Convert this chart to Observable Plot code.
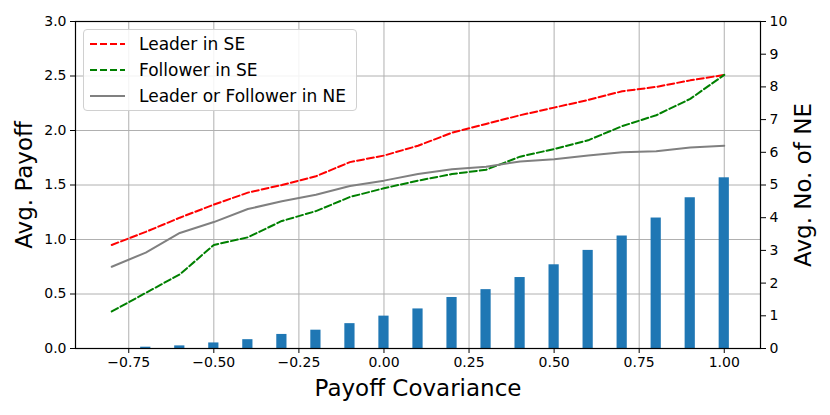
<!DOCTYPE html>
<html>
<head>
<meta charset="utf-8">
<script src="https://cdn.jsdelivr.net/npm/d3@7"></script>
<script src="https://cdn.jsdelivr.net/npm/@observablehq/plot@0.6"></script>
<style>
  body { margin: 0; background: white; font-family: "DejaVu Sans", sans-serif; }
  #wrap { position: relative; width: 830px; height: 415px; }
  #legend { position: absolute; left: 83px; top: 29px; width: 272px; height: 80px;
    border: 1px solid #d0d0d0; border-radius: 4px; background: rgba(255,255,255,0.85); }
</style>
</head>
<body>
<div id="wrap"></div>
<script>
const covariance = [-0.8,-0.7,-0.6,-0.5,-0.4,-0.3,-0.2,-0.1,0.0,0.1,0.2,0.3,0.4,0.5,0.6,0.7,0.8,0.9,1.0];
const leaderSE   = [0.95,1.07,1.20,1.32,1.43,1.50,1.58,1.71,1.77,1.86,1.98,2.06,2.14,2.21,2.28,2.36,2.40,2.46,2.51];
const followerSE = [0.34,0.51,0.68,0.95,1.02,1.17,1.26,1.39,1.47,1.54,1.60,1.64,1.76,1.83,1.91,2.04,2.14,2.29,2.51];
const eitherNE   = [0.75,0.88,1.06,1.16,1.28,1.35,1.41,1.49,1.54,1.60,1.645,1.667,1.716,1.737,1.77,1.80,1.81,1.845,1.86];
const numNE      = [0,0.04,0.08,0.17,0.27,0.43,0.56,0.76,0.99,1.21,1.56,1.80,2.17,2.56,3.00,3.44,3.99,4.61,5.22];

const xTicks = [-0.75,-0.5,-0.25,0,0.25,0.5,0.75,1.0];
const leftTicks = [0,0.5,1.0,1.5,2.0,2.5,3.0];
const rightTicks = [0,1,2,3,4,5,6,7,8,9,10];
const seriesNames = ["Leader in SE","Follower in SE","Leader or Follower in NE"];
const seriesColors = ["red","green","gray"];

const leftMax = 3, rightMax = 10, k = leftMax / rightMax;
const barHalf = 0.015;

const data = covariance.map((x, i) => ({x, leader: leaderSE[i], follower: followerSE[i], ne: eitherNE[i], count: numNE[i]}));

const chart = Plot.plot({
  width: 830, height: 415,
  marginLeft: 75, marginRight: 70, marginTop: 21, marginBottom: 67,
  x: {domain: [-0.9065, 1.1065]},
  y: {domain: [0, leftMax]},
  style: {fontFamily: "DejaVu Sans", fontSize: "14px", color: "black", background: "white"},
  marks: [
    Plot.gridX(xTicks, {stroke: "#b0b0b0", strokeOpacity: 1, strokeWidth: 1}),
    Plot.gridY(leftTicks, {stroke: "#b0b0b0", strokeOpacity: 1, strokeWidth: 1}),
    Plot.rectY(data, {x1: d => d.x - barHalf, x2: d => d.x + barHalf, y1: 0, y2: d => d.count * k, fill: "#1f77b4"}),
    Plot.line(data, {x: "x", y: "leader", stroke: seriesColors[0], strokeWidth: 2, strokeDasharray: "7,3"}),
    Plot.line(data, {x: "x", y: "follower", stroke: seriesColors[1], strokeWidth: 2, strokeDasharray: "7,3"}),
    Plot.line(data, {x: "x", y: "ne", stroke: seriesColors[2], strokeWidth: 2}),
    Plot.frame({stroke: "black", strokeWidth: 1.2}),
    Plot.axisX({ticks: xTicks, tickFormat: d3.format(".2f"), tickSize: 5, tickPadding: 4, label: null, fontSize: 14}),
    Plot.axisY({anchor: "left", ticks: leftTicks, tickFormat: d3.format(".1f"), tickSize: 5, tickPadding: 4, label: null, fontSize: 14}),
    Plot.axisY({anchor: "right", ticks: rightTicks.map(v => v * k), tickFormat: d => String(Math.round(d / k)), tickSize: 5, tickPadding: 4, label: null, fontSize: 14}),
    Plot.text(["Payoff Covariance"], {frameAnchor: "bottom", dy: 47, fontSize: 23, textAnchor: "middle", lineAnchor: "bottom"}),
    Plot.text(["Avg. Payoff"], {frameAnchor: "left", dx: -51, rotate: -90, fontSize: 23, textAnchor: "middle", lineAnchor: "middle"}),
    Plot.text(["Avg. No. of NE"], {frameAnchor: "right", dx: 43, rotate: -90, fontSize: 23, textAnchor: "middle", lineAnchor: "middle"})
  ]
});

const wrap = document.getElementById("wrap");
wrap.appendChild(chart);

// Legend
const legend = document.createElement("div");
legend.id = "legend";
const ns = "http://www.w3.org/2000/svg";
const lsvg = document.createElementNS(ns, "svg");
lsvg.setAttribute("width", 272); lsvg.setAttribute("height", 80);
lsvg.style.position = "absolute"; lsvg.style.left = "0"; lsvg.style.top = "0";
const dashes = ["7,3", "7,3", null];
seriesNames.forEach((name, i) => {
  const y = 14 + i * 26;
  const ln = document.createElementNS(ns, "line");
  ln.setAttribute("x1", 6); ln.setAttribute("x2", 41);
  ln.setAttribute("y1", y); ln.setAttribute("y2", y);
  ln.setAttribute("stroke", seriesColors[i]); ln.setAttribute("stroke-width", 2);
  if (dashes[i]) ln.setAttribute("stroke-dasharray", dashes[i]);
  lsvg.appendChild(ln);
  const t = document.createElementNS(ns, "text");
  t.setAttribute("x", 55); t.setAttribute("y", y + 6);
  t.setAttribute("font-family", "DejaVu Sans"); t.setAttribute("font-size", 17);
  t.textContent = name;
  lsvg.appendChild(t);
});
legend.appendChild(lsvg);
wrap.appendChild(legend);
</script>
</body>
</html>
